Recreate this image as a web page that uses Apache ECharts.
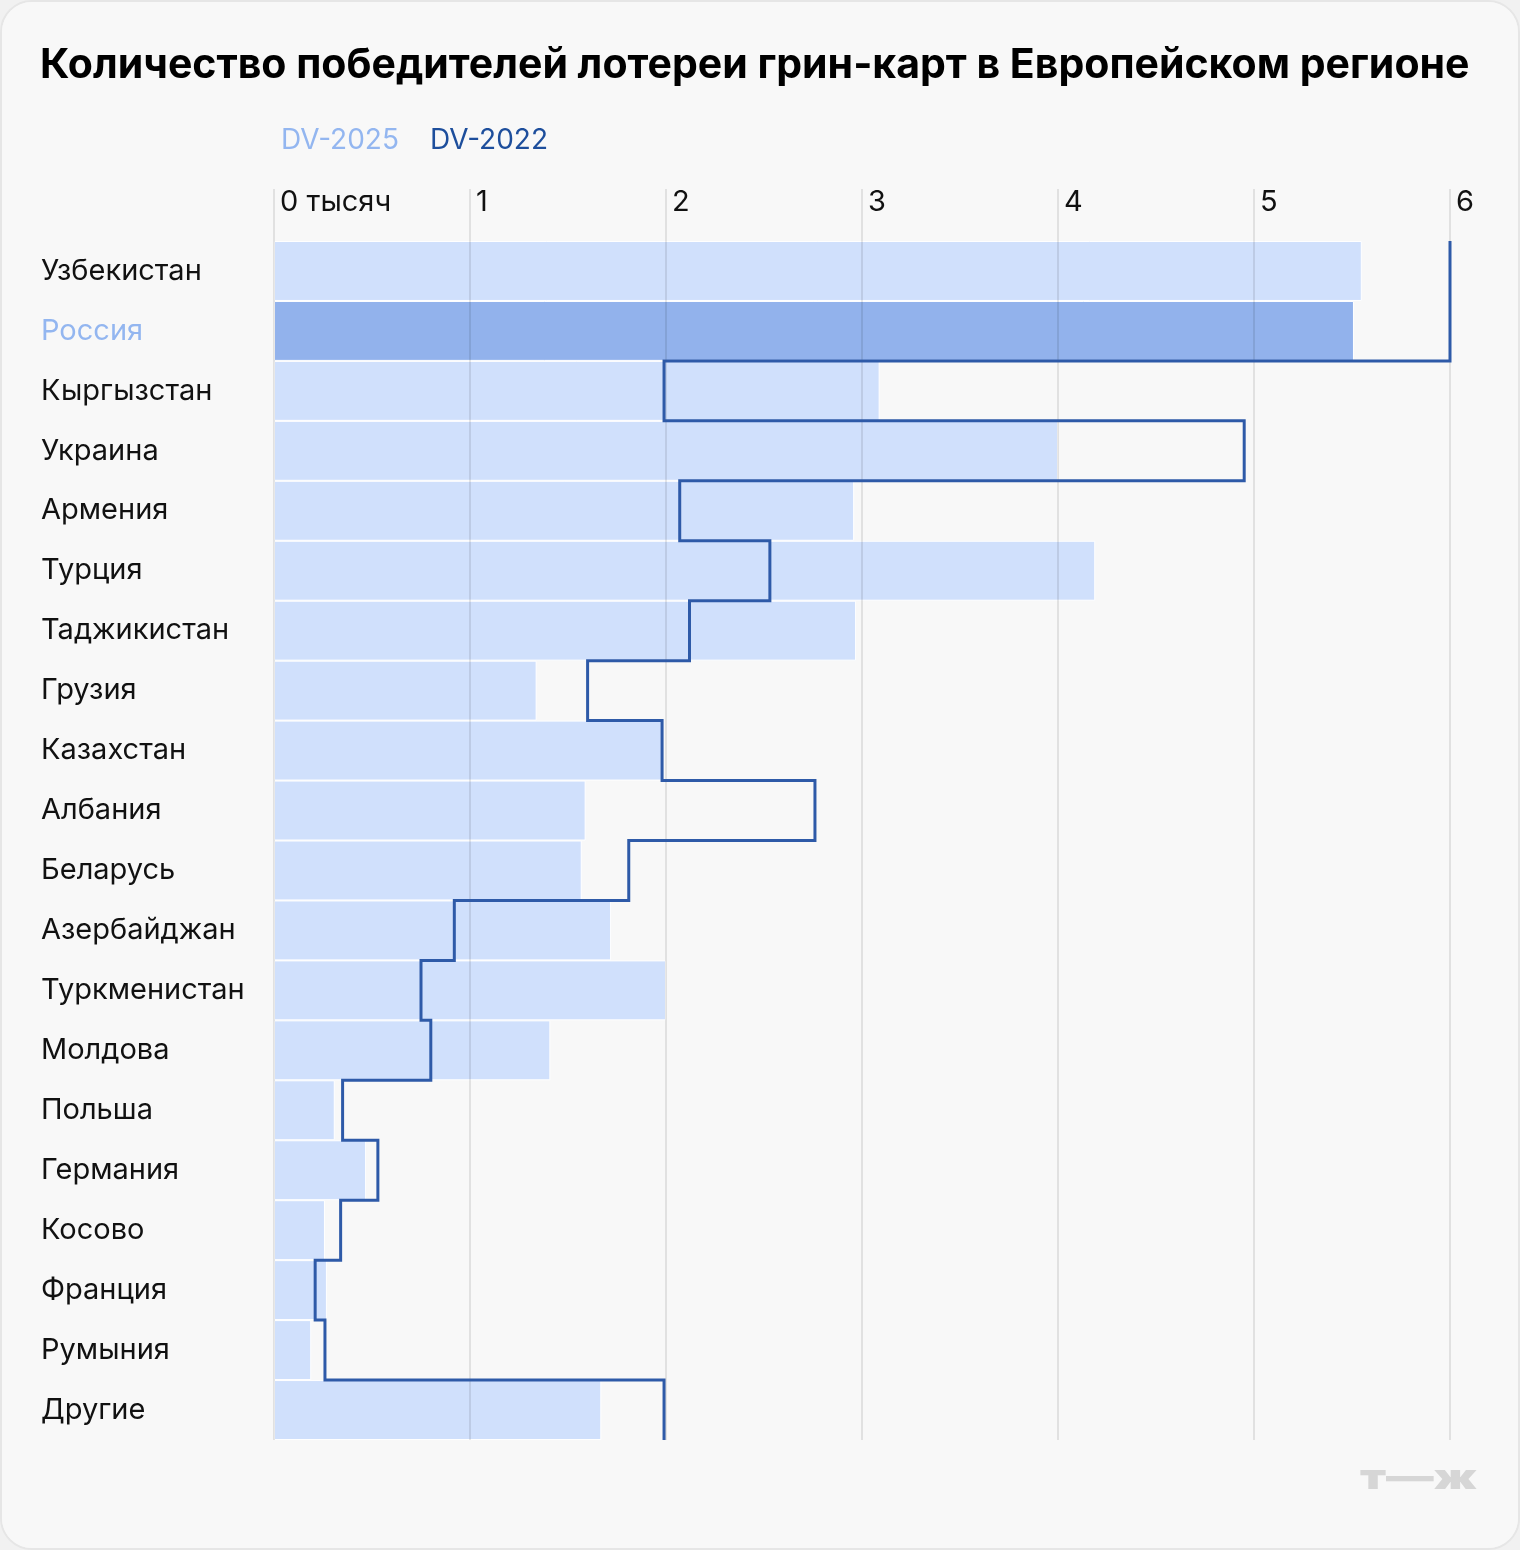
<!DOCTYPE html>
<html><head><meta charset="utf-8">
<script src="https://cdn.jsdelivr.net/npm/echarts@6/dist/echarts.min.js"></script>
<style>
html,body{margin:0;padding:0;background:#f1f1f1;}
#card{position:absolute;left:0;top:0;width:1516px;height:1546px;background:#f8f8f8;border:2px solid #e6e6e6;border-radius:32px;overflow:hidden;}
#chart{width:1516px;height:1546px;}
</style></head>
<body><div id="card"><div id="chart"></div></div>
<script>
const categories = ['Узбекистан','Россия','Кыргызстан','Украина','Армения','Турция','Таджикистан','Грузия','Казахстан','Албания','Беларусь','Азербайджан','Туркменистан','Молдова','Польша','Германия','Косово','Франция','Румыния','Другие'];
const dv2025 = [5.55,5.51,3.09,4.00,2.96,4.19,2.97,1.34,1.98,1.59,1.57,1.72,2.00,1.41,0.31,0.47,0.26,0.27,0.19,1.67];
const dv2022 = [6.00,6.00,1.99,4.95,2.07,2.53,2.12,1.60,1.98,2.76,1.81,0.92,0.75,0.80,0.35,0.53,0.34,0.21,0.26,1.99];
const xTickLabels = ['0 тысяч','1','2','3','4','5','6'];
const highlight = 'Россия';

const FONT = 'Inter, "Noto Sans", sans-serif';
const barData = dv2025.map((v,i)=> categories[i]===highlight ? {value:v, itemStyle:{color:'#92b2ec'}} : v);
const stepData = [];
dv2022.forEach((v,i)=>{ stepData.push([v,i]); stepData.push([v,i+1]); });

const chart = echarts.init(document.getElementById('chart'), null, {renderer:'canvas'});
chart.setOption({
  animation:false,
  backgroundColor:'#f8f8f8',
  textStyle:{fontFamily:FONT},
  grid:{left:272, right:68, top:239, bottom:108, containLabel:false},
  graphic:[
    {type:'text', left:38, top:43, style:{text:'Количество победителей лотереи грин-карт в Европейском регионе', font:'bold 41px '+FONT, fill:'#000'}},
    {type:'text', left:279, top:125, style:{text:'DV-2025', font:'28px '+FONT, fill:'#93b6f0'}},
    {type:'text', left:428, top:125, style:{text:'DV-2022', font:'28px '+FONT, fill:'#1d4e9c'}},
    {type:'text', x:1358, y:1459, scaleX:1.36, scaleY:1, style:{text:'т—ж', font:'900 35px '+FONT, fill:'#d6d6d6'}}
  ],
  xAxis:{type:'value', position:'top', min:0, max:6, interval:1, z:3,
    axisLine:{show:false},
    axisTick:{show:true, length:52, lineStyle:{color:'rgba(0,0,0,0.09)', width:2}},
    splitLine:{show:true, lineStyle:{color:'rgba(0,0,0,0.09)', width:2}},
    axisLabel:{formatter:v=>xTickLabels[v], align:'left', verticalAlign:'middle', margin:39, padding:[0,0,0,6], fontSize:29, color:'#111', fontFamily:FONT}
  },
  yAxis:[
    {type:'category', data:categories, inverse:true,
      axisLine:{show:false}, axisTick:{show:false}, splitLine:{show:false},
      axisLabel:{align:'left', margin:233, fontSize:29, fontFamily:FONT, color:(v)=> v===highlight ? '#93b6f0' : '#111'}
    },
    {type:'value', min:0, max:categories.length, inverse:true, show:false}
  ],
  series:[
    {type:'bar', name:'DV-2025', yAxisIndex:0, data:barData, barCategoryGap:0, z:2,
      itemStyle:{color:'#d0e0fc', borderColor:'#ffffff', borderWidth:1}},
    {type:'line', name:'DV-2022', yAxisIndex:1, data:stepData, symbol:'none', z:5,
      lineStyle:{color:'#2e5aa8', width:3, join:'miter'}}
  ]
});
</script></body></html>
